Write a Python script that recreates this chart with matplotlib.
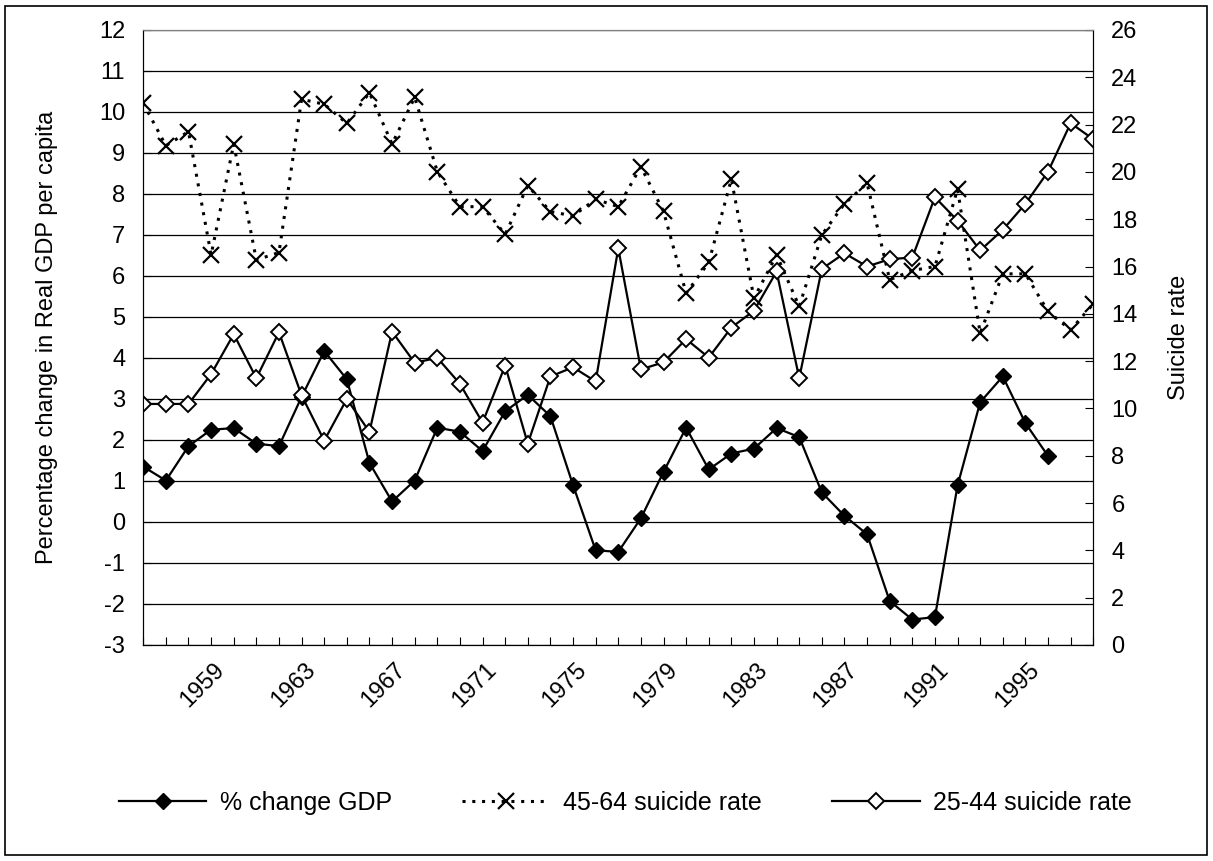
import numpy as np
import matplotlib
matplotlib.use("Agg")
import matplotlib.pyplot as plt
import matplotlib.transforms as mtransforms
from matplotlib.patches import Rectangle

plt.rcParams["font.family"] = ["Liberation Sans", "DejaVu Sans"]
plt.rcParams["axes.unicode_minus"] = False

# ── Data ──────────────────────────────────────────────────────────────────────
years = list(range(1956, 1999))
label_years = [1959, 1963, 1967, 1971, 1975, 1979, 1983, 1987, 1991, 1995]

gdp_years = list(range(1956, 1997))
gdp_change = [1.35, 1.01, 1.85, 2.25, 2.29, 1.91, 1.85, 3.05, 4.17, 3.48,
              1.44, 0.50, 1.01, 2.30, 2.20, 1.73, 2.70, 3.10, 2.58, 0.90,
              -0.69, -0.73, 0.09, 1.22, 2.30, 1.28, 1.67, 1.79, 2.29, 2.07,
              0.72, 0.15, -0.30, -1.93, -2.38, -2.32, 0.89, 2.92, 3.55, 2.41,
              1.61]

rate_45_64 = [22.90, 21.11, 21.70, 16.49, 21.18, 16.28, 16.59, 23.07, 22.86, 22.05,
              23.35, 21.18, 23.15, 20.01, 18.53, 18.53, 17.36, 19.42, 18.32, 18.14,
              18.84, 18.53, 20.22, 18.33, 14.87, 16.17, 19.69, 14.66, 16.49, 14.31,
              17.34, 18.65, 19.52, 15.44, 15.83, 16.00, 19.27, 13.18, 15.69, 15.69,
              14.10, 13.32, 14.42]

rate_25_44 = [10.19, 10.19, 10.19, 11.45, 13.14, 11.28, 13.22, 10.55, 8.64, 10.40,
              9.01, 13.25, 11.93, 12.14, 11.04, 9.40, 11.81, 8.51, 11.35, 11.74,
              11.14, 16.77, 11.65, 11.95, 12.93, 12.15, 13.42, 14.13, 15.79, 11.28,
              15.90, 16.56, 16.00, 16.31, 16.38, 18.93, 17.94, 16.68, 17.55, 18.65,
              20.01, 22.06, 21.38]

FS = 17
FS_LEG = 18

# ── Figure ────────────────────────────────────────────────────────────────────
fig = plt.figure(figsize=(12.13, 8.61), dpi=100)
ax = fig.add_axes([0.1181, 0.2509, 0.7832, 0.7143])
ax2 = ax.twinx()

ax.plot(gdp_years, gdp_change, color="black", lw=1.6, marker="D", ms=8,
        mfc="black", mec="black", label="% change GDP", zorder=3)
l2, = ax2.plot(years, rate_45_64, color="black", lw=2.2, ls=(0, (1, 2.2)), marker="x",
               ms=11, mew=1.6, mec="black", label="45-64 suicide rate")
l3, = ax2.plot(years, rate_25_44, color="black", lw=1.6, marker="D", ms=8,
               mfc="white", mec="black", mew=1.4, label="25-44 suicide rate")

# left axis
ax.set_xlim(1956, 1998)
ax.set_ylim(-3, 12)
ax.set_yticks(range(-3, 13))
ax.yaxis.grid(True, color="black", lw=0.9)
ax.set_axisbelow(True)
ax.tick_params(axis="y", direction="in", length=6, labelsize=FS, pad=13)

ax.set_xticks(years)
ax.set_xticklabels([str(y) if y in label_years else "" for y in years],
                   rotation=45, ha="right", va="top", fontsize=FS)
ax.tick_params(axis="x", direction="in", length=6, pad=10)
offset = mtransforms.ScaledTranslation(18 / 100, 0, fig.dpi_scale_trans)
for lbl in ax.get_xticklabels():
    lbl.set_transform(lbl.get_transform() + offset)

# right axis
ax2.set_ylim(0, 26)
ax2.set_yticks(range(0, 27, 2))
ax2.tick_params(axis="y", direction="in", length=6, labelsize=FS, pad=13)

for a in (ax, ax2):
    a.spines["top"].set_color("#808080")
    a.spines["left"].set_color("black")
    a.spines["bottom"].set_color("black")
    a.spines["right"].set_color("black")

fig.text(0.0387, 0.608, "Percentage change in Real GDP per capita",
         rotation=90, ha="center", va="center", fontsize=FS)
fig.text(0.972, 0.608, "Suicide rate", rotation=90, ha="center", va="center",
         fontsize=FS)

handles = [ax.get_lines()[0], l2, l3]
fig.legend(handles=handles, labels=[h.get_label() for h in handles],
           loc="center", bbox_to_anchor=(0.5157, 0.0674), ncol=3, frameon=False,
           fontsize=FS_LEG, numpoints=1, handlelength=3.5, handletextpad=0.55,
           columnspacing=2.8)

# outer chart border
fig.patches.append(Rectangle((5 / 1213, 6 / 861), 1202 / 1213, 849 / 861,
                             transform=fig.transFigure, fill=False,
                             edgecolor="black", lw=1.2))

fig.savefig("out.png", dpi=100)
